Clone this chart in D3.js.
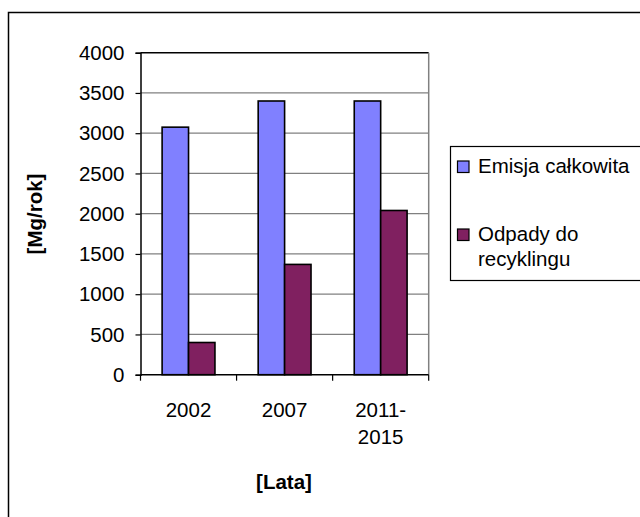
<!DOCTYPE html>
<html>
<head>
<meta charset="utf-8">
<script src="https://cdn.jsdelivr.net/npm/d3@7"></script>
<style>
  html, body { margin: 0; padding: 0; background: #fff; }
  svg { display: block; font-family: "Liberation Sans", Arial, sans-serif; }
</style>
</head>
<body>
<svg id="chart" width="640" height="517"></svg>
<script>
// Categories (years) and series values [Mg/rok]
const categories = [["2002"], ["2007"], ["2011-", "2015"]];
const categoryKeys = ["2002", "2007", "2011-2015"];
const seriesNames = ["Emisja całkowita", "Odpady do recyklingu"];
const emisja = [3075, 3400, 3400];
const odpady = [400, 1370, 2040];
const yTicks = [0, 500, 1000, 1500, 2000, 2500, 3000, 3500, 4000];
const colors = ["#8080ff", "#802060"];
const fontSize = 20.5;

const svg = d3.select("#chart");

// Outer chart frame
svg.append("rect")
  .attr("x", 8.5).attr("y", 12.5)
  .attr("width", 700).attr("height", 600)
  .attr("fill", "none").attr("stroke", "#000").attr("stroke-width", 1.5);

const plot = { left: 140.5, right: 428.7, top: 52.7, bottom: 374.7 };

const x = d3.scaleBand()
  .domain(categoryKeys)
  .range([plot.left, plot.right])
  .paddingInner(0.45)
  .paddingOuter(0.225);

const xs = d3.scaleBand()
  .domain([0, 1])
  .range([0, x.bandwidth()]);

const y = d3.scaleLinear()
  .domain([0, 4000])
  .range([plot.bottom, plot.top]);

// Horizontal gridlines
svg.append("g")
  .selectAll("line")
  .data(yTicks.filter(d => d > 0))
  .join("line")
  .attr("x1", plot.left).attr("x2", plot.right)
  .attr("y1", d => y(d)).attr("y2", d => y(d))
  .attr("stroke", d => d === 4000 ? "#000" : "#808080")
  .attr("stroke-width", d => d === 4000 ? 1.5 : 1.2);

// Right edge of plot area
svg.append("line")
  .attr("x1", plot.right).attr("x2", plot.right)
  .attr("y1", plot.top).attr("y2", plot.bottom)
  .attr("stroke", "#808080").attr("stroke-width", 1.5);

// Bars
const rows = categoryKeys.map((k, i) => ({ key: k, values: [emisja[i], odpady[i]] }));
const groups = svg.append("g")
  .selectAll("g")
  .data(rows)
  .join("g")
  .attr("transform", d => `translate(${x(d.key)},0)`);

groups.selectAll("rect")
  .data(d => d.values.map((v, j) => ({ v, j })))
  .join("rect")
  .attr("x", d => xs(d.j))
  .attr("width", xs.bandwidth())
  .attr("y", d => y(d.v))
  .attr("height", d => y(0) - y(d.v))
  .attr("fill", d => colors[d.j])
  .attr("stroke", "#000")
  .attr("stroke-width", 1.6);

// Y axis
const yAxis = svg.append("g")
  .attr("transform", `translate(${plot.left},0)`)
  .call(d3.axisLeft(y).tickValues(yTicks).tickSize(5).tickPadding(11).tickFormat(d3.format("d")));
yAxis.select(".domain").attr("stroke", "#000").attr("stroke-width", 1.5);
yAxis.selectAll(".tick line").attr("stroke", "#000").attr("stroke-width", 1.2);
yAxis.selectAll(".tick text")
  .attr("font-size", fontSize)
  .attr("font-family", "'Liberation Sans', Arial, sans-serif")
  .attr("fill", "#000");

// X axis line and boundary ticks
svg.append("line")
  .attr("x1", plot.left).attr("x2", plot.right)
  .attr("y1", plot.bottom).attr("y2", plot.bottom)
  .attr("stroke", "#000").attr("stroke-width", 1.5);
const boundaries = d3.range(categoryKeys.length + 1).map(i => plot.left + i * (plot.right - plot.left) / categoryKeys.length);
svg.append("g")
  .selectAll("line")
  .data(boundaries)
  .join("line")
  .attr("x1", d => d).attr("x2", d => d)
  .attr("y1", plot.bottom).attr("y2", plot.bottom + 6)
  .attr("stroke", "#000").attr("stroke-width", 1.2);

// X category labels
svg.append("g")
  .selectAll("text")
  .data(categories)
  .join("text")
  .attr("x", (d, i) => x(categoryKeys[i]) + x.bandwidth() / 2)
  .attr("y", 417)
  .attr("text-anchor", "middle")
  .attr("font-size", fontSize)
  .selectAll("tspan")
  .data(d => d)
  .join("tspan")
  .attr("x", function () { return d3.select(this.parentNode).attr("x"); })
  .attr("dy", (d, i) => i === 0 ? 0 : 27)
  .text(d => d);

// Axis titles
svg.append("text")
  .attr("x", 284).attr("y", 489)
  .attr("text-anchor", "middle")
  .attr("font-size", fontSize).attr("font-weight", "bold")
  .text("[Lata]");

svg.append("text")
  .attr("transform", "translate(42,214) rotate(-90)")
  .attr("text-anchor", "middle")
  .attr("font-size", fontSize).attr("font-weight", "bold")
  .text("[Mg/rok]");

// Legend
svg.append("rect")
  .attr("x", 450.5).attr("y", 146.5)
  .attr("width", 300).attr("height", 134)
  .attr("fill", "#fff").attr("stroke", "#000").attr("stroke-width", 1.2);

const legendItems = [
  { lines: ["Emisja całkowita"], y: 173 },
  { lines: ["Odpady do", "recyklingu"], y: 241 }
];
legendItems.forEach((item, i) => {
  svg.append("rect")
    .attr("x", 457.5).attr("y", item.y - 12)
    .attr("width", 11.5).attr("height", 11.5)
    .attr("fill", colors[i]).attr("stroke", "#000").attr("stroke-width", 1.2);
  const t = svg.append("text")
    .attr("x", 478).attr("y", item.y)
    .attr("font-size", fontSize);
  item.lines.forEach((ln, k) => {
    t.append("tspan").attr("x", 478).attr("dy", k === 0 ? 0 : 25).text(ln);
  });
});
</script>
</body>
</html>
